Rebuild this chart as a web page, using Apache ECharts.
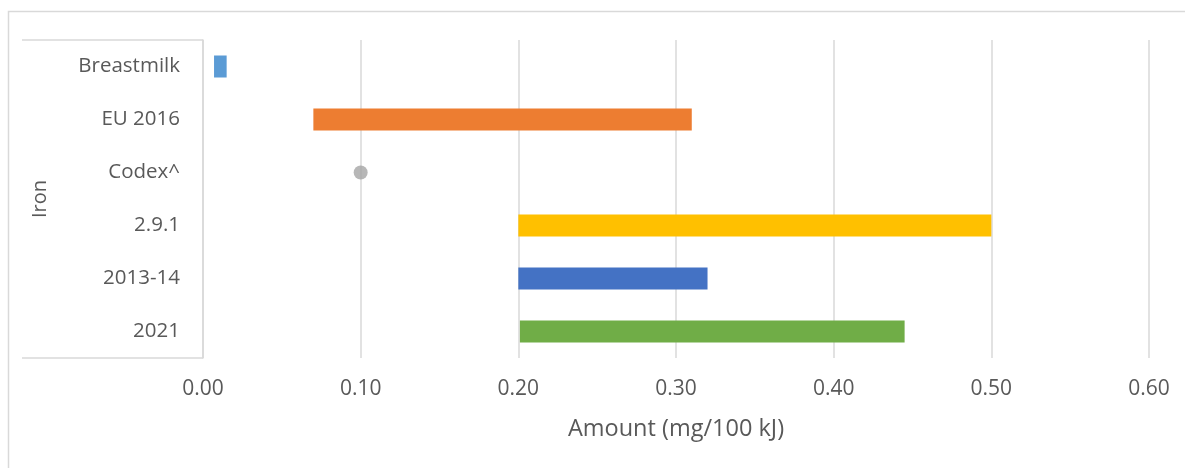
<!DOCTYPE html>
<html>
<head>
<meta charset="utf-8">
<script src="https://cdn.jsdelivr.net/npm/echarts@6/dist/echarts.min.js"></script>
<style>
html,body{margin:0;padding:0;background:#fff;}
#chart{width:1185px;height:468px;}
</style>
</head>
<body>
<div id="chart"></div>
<script>
// ---- data ----
const categories = ['Breastmilk', 'EU 2016', 'Codex^', '2.9.1', '2013-14', '2021'];
const rangeLow  = [0.007, 0.07, null, 0.20, 0.20, 0.201];
const rangeHigh = [0.015, 0.31, null, 0.50, 0.32, 0.445];
const pointValues = [null, null, 0.10, null, null, null];
const barColors = ['#5B9BD5', '#ED7D31', '#A5A5A5', '#FFC000', '#4472C4', '#70AD47'];
const axisMin = 0, axisMax = 0.6, axisStep = 0.1;
const groupLabel = 'Iron';
const xAxisTitle = 'Amount (mg/100 kJ)';

// ---- chart ----
const font = '"Open Sans", "Noto Sans", sans-serif';
const textColor = '#595959';
const lineColor = '#D9D9D9';
const grid = {left: 203, right: 36, top: 40, bottom: 110};

const baseData = rangeLow.map(v => v == null ? '-' : v);
const spanData = rangeLow.map((v, i) => v == null ? '-' : {
  value: +(rangeHigh[i] - v).toFixed(4),
  itemStyle: {color: barColors[i]}
});
const pointData = [];
pointValues.forEach((v, i) => { if (v != null) pointData.push({value: [v, categories[i]], itemStyle: {color: barColors[i]}}); });

const chart = echarts.init(document.getElementById('chart'), null, {renderer: 'canvas'});
const H = 468, W = 1185;
chart.setOption({
  animation: false,
  backgroundColor: '#fff',
  grid: grid,
  xAxis: {
    type: 'value',
    min: axisMin, max: axisMax, interval: axisStep,
    axisLine: {show: false},
    axisTick: {show: false},
    splitLine: {show: true, lineStyle: {color: lineColor, width: 1.5}},
    axisLabel: {
      formatter: v => v.toFixed(2),
      color: textColor, fontFamily: font, fontSize: 21, margin: 21
    },
    name: xAxisTitle,
    nameLocation: 'middle',
    nameGap: 59,
    nameTextStyle: {color: textColor, fontFamily: font, fontSize: 23.5}
  },
  yAxis: {
    type: 'category',
    data: categories,
    inverse: true,
    axisLine: {show: true, lineStyle: {color: lineColor, width: 1.5}},
    axisTick: {show: false},
    splitLine: {show: false},
    axisLabel: {color: textColor, fontFamily: font, fontSize: 20.5, margin: 23},
    name: groupLabel,
    nameLocation: 'middle',
    nameRotate: 90,
    nameGap: 153,
    nameTextStyle: {color: textColor, fontFamily: font, fontSize: 20}
  },
  series: [
    {
      type: 'bar', stack: 'range', data: baseData, barWidth: 22,
      itemStyle: {color: 'rgba(0,0,0,0)'}, silent: true
    },
    {
      type: 'bar', stack: 'range', data: spanData, barWidth: 22
    },
    {
      type: 'scatter', data: pointData, symbol: 'circle', symbolSize: 14
    }
  ],
  graphic: [
    {type: 'rect', shape: {x: 8.5, y: 11.5, width: W, height: H}, style: {fill: null, stroke: lineColor, lineWidth: 1.5}, silent: true},
    {type: 'line', shape: {x1: 22, y1: grid.top, x2: grid.left, y2: grid.top}, style: {stroke: lineColor, lineWidth: 1.5}, silent: true},
    {type: 'line', shape: {x1: 22, y1: H - grid.bottom, x2: grid.left, y2: H - grid.bottom}, style: {stroke: lineColor, lineWidth: 1.5}, silent: true}
  ]
});
</script>
</body>
</html>
